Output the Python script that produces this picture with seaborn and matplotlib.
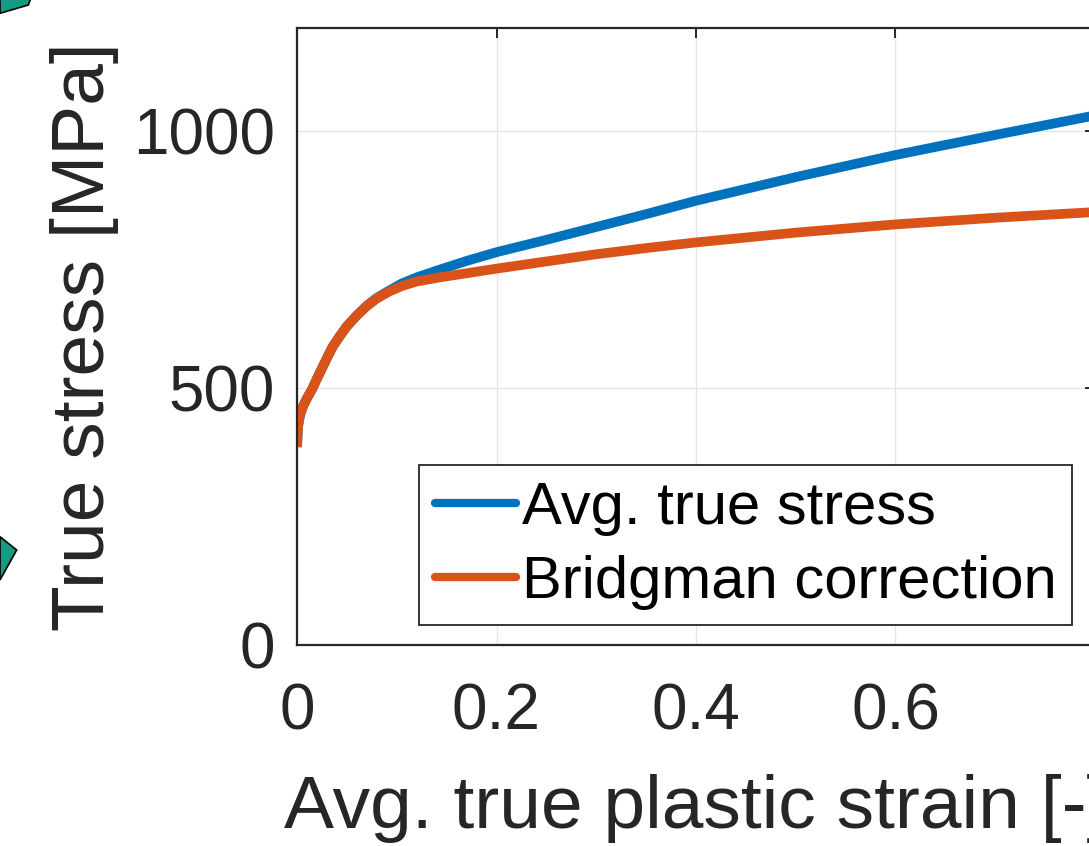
import numpy as np
import pandas as pd
import seaborn as sns
import matplotlib.pyplot as plt
from matplotlib.patches import Polygon

# Data
strain = [0.0, 0.001, 0.003, 0.006, 0.01, 0.015, 0.02, 0.026, 0.031, 0.036,
          0.043, 0.05, 0.06, 0.07, 0.08, 0.093, 0.105, 0.12, 0.143, 0.17,
          0.2, 0.25, 0.3, 0.35, 0.4, 0.5, 0.6, 0.7, 0.8]
avg_true_stress = [385, 425, 447, 464, 480, 497, 518, 542, 562, 581,
                   601, 620, 641, 660, 675, 690, 703, 715, 730, 747,
                   764, 788, 813, 838, 864, 910, 953, 992, 1030]
bridgman = [385, 425, 447, 464, 480, 497, 518, 542, 562, 581,
            601, 620, 641, 659, 674, 688, 698, 707, 715, 723,
            732, 746, 760, 772, 783, 802, 818, 831, 842]
series_names = ["Avg. true stress", "Bridgman correction"]
x_ticks = [0, 0.2, 0.4, 0.6]
x_tick_labels = ["0", "0.2", "0.4", "0.6"]
y_ticks = [0, 500, 1000]

df = pd.DataFrame({
    "strain": strain * 2,
    "stress": avg_true_stress + bridgman,
    "series": [series_names[0]] * len(strain) + [series_names[1]] * len(strain),
})

sns.set_theme(style="whitegrid")
plt.rcParams["font.family"] = ["Liberation Sans", "DejaVu Sans"]

W, H = 1089, 846
fig = plt.figure(figsize=(W / 100, H / 100), dpi=100)
fig.patch.set_facecolor("white")

# axes box runs past the right edge of the picture (cropped figure)
ax = fig.add_axes([297 / W, (H - 645) / H, 798 / W, 617 / H])
ax.set_facecolor("white")

sns.lineplot(data=df, x="strain", y="stress", hue="series",
             palette=["#0072BD", "#D95319"], linewidth=7, sort=False,
             estimator=None, ax=ax, legend=False)
for ln in ax.lines:
    ln.set_solid_capstyle("butt")
    ln.set_solid_joinstyle("round")

ax.set_xlim(0, 0.8)
ax.set_ylim(0, 1200)
ax.set_xticks(x_ticks)
ax.set_xticklabels(x_tick_labels)
ax.set_yticks(y_ticks)

ax.grid(True, color="#e6e6e6", linewidth=1.0)
for s in ax.spines.values():
    s.set_visible(True)
    s.set_color("#262626")
    s.set_linewidth(1.6)

ax.tick_params(axis="both", direction="in", length=7, width=1.4,
               colors="#262626", labelsize=46, top=True, right=True)
ax.tick_params(axis="x", pad=27)
ax.tick_params(axis="y", pad=16)

ax.set_xlabel("Avg. true plastic strain [-]", fontsize=54, color="#262626", labelpad=23)
ax.set_ylabel("True stress [MPa]", fontsize=54, color="#262626", labelpad=10)

handles = [plt.Line2D([], [], color=c, linewidth=6) for c in ["#0072BD", "#D95319"]]
leg = ax.legend(handles, series_names, loc="lower left",
                bbox_to_anchor=(0.153, 0.032), borderaxespad=0,
                fontsize=43, handlelength=1.36, handletextpad=0.1,
                labelspacing=0.32, borderpad=0.26, fancybox=False,
                framealpha=1, edgecolor="#262626")
leg.get_frame().set_linewidth(1.3)
for t in leg.get_texts():
    t.set_color("black")

# teal arrow pieces cut off at the left edge of the picture
def px(pts):
    return [(x / W, 1 - y / H) for x, y in pts]

for pts in ([(0, -2), (31, -2), (28.3, 5), (0, 13.3)],
            [(0, 536.7), (16.7, 550), (0, 580)]):
    fig.patches.append(Polygon(px(pts), closed=True, facecolor="#169a83",
                               edgecolor="black", linewidth=1.2,
                               transform=fig.transFigure, figure=fig))

fig.savefig("out.png", dpi=100)
